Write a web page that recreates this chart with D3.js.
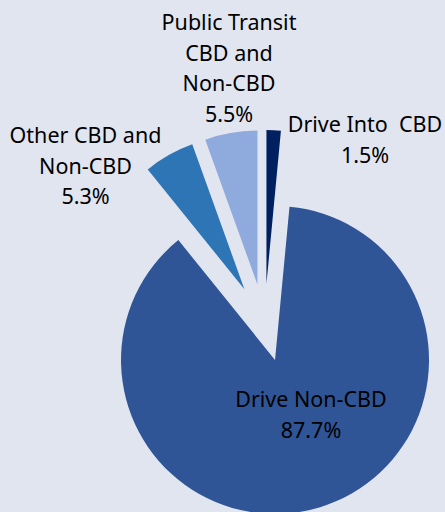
<!DOCTYPE html>
<html>
<head>
<meta charset="utf-8">
<script src="https://cdn.jsdelivr.net/npm/d3@7"></script>
<style>
  html, body { margin: 0; padding: 0; background: #e1e5f0; }
  svg { display: block; }
  text { font-family: "Noto Sans", "Open Sans", sans-serif; white-space: pre; }
</style>
</head>
<body>
<svg id="pie"></svg>
<script>
// data
const categories = ["Drive Into  CBD", "Drive Non-CBD", "Other CBD and Non-CBD", "Public Transit CBD and Non-CBD"];
const shares = [1.5, 87.7, 5.3, 5.5];
const labelLines = [
  ["Drive Into  CBD", "1.5%"],
  ["Drive Non-CBD", "87.7%"],
  ["Other CBD and", "Non-CBD", "5.3%"],
  ["Public Transit", "CBD and", "Non-CBD", "5.5%"]
];
const colors = ["#002060", "#2f5597", "#2e75b6", "#8faadc"];

const width = 445, height = 512;
const cx = 264.5, cy = 325, radius = 154;
// how far each slice is pulled out of the pie
const explode = [41, 36.5, 41, 41];
// label centres (first baseline) as placed in the original
const labelPos = [
  [365, 132],
  [311, 407],
  [85.5, 143],
  [229, 30]
];
const lineHeight = 30.5;

const svg = d3.select("#pie")
  .attr("width", width)
  .attr("height", height);

const pie = d3.pie().sort(null).value(d => d.value);
const arc = d3.arc().innerRadius(0).outerRadius(radius);

const data = pie(categories.map((c, i) => ({ name: c, value: shares[i], i: i })));

const g = svg.append("g").attr("transform", `translate(${cx},${cy})`);

g.selectAll("path")
  .data(data)
  .enter().append("path")
  .attr("d", arc)
  .attr("fill", d => colors[d.data.i])
  .attr("transform", d => {
    const a = (d.startAngle + d.endAngle) / 2;
    const e = explode[d.data.i];
    return `translate(${Math.sin(a) * e},${-Math.cos(a) * e})`;
  });

const labels = svg.selectAll("text.lab")
  .data(data)
  .enter().append("text")
  .attr("class", "lab")
  .attr("text-anchor", "middle")
  .attr("font-size", 21.5)
  .attr("fill", "#000");

labels.each(function (d) {
  const [x, y] = labelPos[d.data.i];
  d3.select(this).selectAll("tspan")
    .data(labelLines[d.data.i])
    .enter().append("tspan")
    .attr("x", x)
    .attr("y", (t, k) => y + k * lineHeight)
    .text(t => t);
});
</script>
</body>
</html>
